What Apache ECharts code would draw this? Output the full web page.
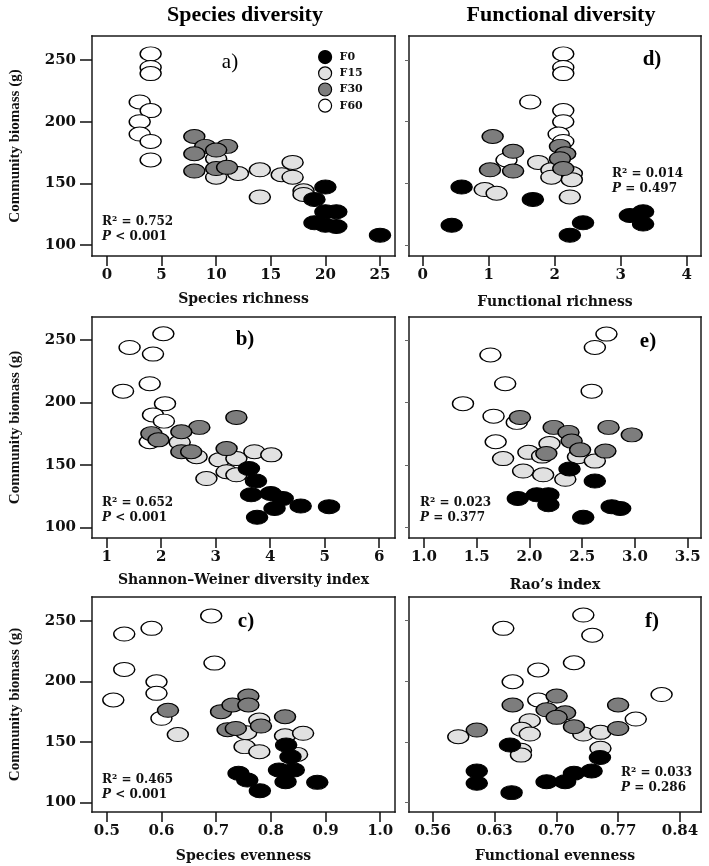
<!DOCTYPE html>
<html>
<head>
<meta charset="utf-8">
<script src="https://cdn.jsdelivr.net/npm/echarts@6/dist/echarts.min.js"></script>
<style>html,body{margin:0;padding:0;background:#fff;overflow:hidden;}#wrap{position:relative;width:709px;height:866px;}.layer{position:absolute;left:0;top:0;width:709px;height:866px;}</style>
</head>
<body>
<div id="wrap"></div>
<script>
// ---------- data ----------
const groups = ['F0', 'F15', 'F30', 'F60'];
const groupColors = ['#000000', '#e1e1e1', '#7d7d7d', '#ffffff'];

const biomassTicks = [100, 150, 200, 250];
const richTicks = [0, 5, 10, 15, 20, 25];
const frichTicks = [0, 1, 2, 3, 4];
const shannonTicks = [1, 2, 3, 4, 5, 6];
const raoTicks = [1.0, 1.5, 2.0, 2.5, 3.0, 3.5];
const evenTicks = [0.5, 0.6, 0.7, 0.8, 0.9, 1.0];
const fevenTicks = [0.56, 0.63, 0.70, 0.77, 0.84];

// a) species richness vs biomass
const richF0 = [[20,147],[19,137],[20,127],[21,127],[19,118],[20,116],[21,115],[25,108]];
const richF15 = [[10,155],[10,170],[12,158],[14,161],[14,139],[16,157],[17,167],[17,155],[18,144],[18,141]];
const richF30 = [[8,188],[9,180],[11,180],[8,174],[10,177],[10,162],[11,163],[8,160]];
const richF60 = [[4,255],[4,244],[4,239],[3,216],[4,209],[3,200],[3,190],[4,184],[4,169]];

// d) functional richness
const frichF0 = [[0.59,147],[1.67,137],[0.44,116],[2.23,108],[2.43,118],[3.14,124],[3.34,127],[3.34,117]];
const frichF15 = [[1.75,167],[1.95,161],[1.95,155],[2.26,158],[2.26,153],[0.94,145],[1.12,142],[2.23,139]];
const frichF30 = [[1.06,188],[1.37,176],[1.02,161],[1.37,160],[2.08,180],[2.16,174],[2.08,170],[2.13,162]];
const frichF60 = [[2.13,255],[2.13,244],[2.13,239],[1.63,216],[2.13,209],[2.13,200],[2.06,190],[2.13,184],[1.27,169]];

// b) Shannon-Weiner index
const shanF0 = [[3.61,147],[3.74,137],[3.65,126],[4.01,127],[4.23,123],[4.08,115],[4.56,117],[5.08,116.5],[3.76,108]];
const shanF15 = [[2.34,168],[2.65,156.5],[3.07,154],[3.38,155],[3.71,160.5],[4.02,158],[2.83,139],[3.20,144.5],[3.38,142]];
const shanF30 = [[3.38,188],[2.70,180],[2.37,176.5],[1.82,175],[1.95,170],[3.20,163],[2.37,160.5],[2.55,160.5]];
const shanF60 = [[2.04,255],[1.42,244],[1.85,238.7],[1.79,215],[1.30,209],[2.07,199],[1.85,190],[2.05,185],[1.79,168.5]];

// e) Rao's index
const raoF0 = [[2.38,146.7],[2.62,137],[1.89,123],[2.07,126],[2.18,126],[2.18,118],[2.51,108],[2.78,116.5],[2.86,115]];
const raoF15 = [[2.19,167],[1.99,160],[2.12,157],[1.75,155],[2.46,156.5],[2.62,153],[1.94,145],[2.13,142],[2.34,138.4]];
const raoF30 = [[1.91,188],[2.23,180],[2.75,180],[2.37,176],[2.97,174],[2.40,169],[2.48,162],[2.72,161],[2.16,159]];
const raoF60 = [[2.73,254.7],[2.62,244],[1.63,238],[1.77,215],[2.59,209],[1.37,199],[1.66,189],[1.88,184],[1.68,168.5]];

// c) species evenness
const evenF0 = [[0.828,147.3],[0.836,137.7],[0.741,124],[0.757,118.4],[0.78,109.6],[0.815,126.7],[0.842,126.7],[0.827,117],[0.885,116.5]];
const evenF15 = [[0.63,156],[0.779,168],[0.755,157.5],[0.752,146],[0.779,141.8],[0.826,155],[0.859,157],[0.848,139.6]];
const evenF30 = [[0.612,176],[0.709,174.9],[0.73,180.4],[0.759,187.8],[0.759,180.4],[0.721,160],[0.736,161],[0.782,163],[0.826,170.7]];
const evenF60 = [[0.691,254],[0.532,239],[0.582,243.7],[0.697,215],[0.532,209.8],[0.591,199.6],[0.591,190],[0.512,184.5],[0.6,169.4]];

// f) functional evenness
const fevenF0 = [[0.6476,147.3],[0.7494,137],[0.61,125.9],[0.61,115.7],[0.6494,108],[0.689,117],[0.71,117],[0.72,124],[0.74,125.9]];
const fevenF15 = [[0.589,154.2],[0.67,167.4],[0.6608,160.3],[0.67,156.4],[0.7306,156.4],[0.75,157.8],[0.75,144.6],[0.66,143],[0.66,139]];
const fevenF30 = [[0.7004,187.8],[0.6506,180.4],[0.77,180.4],[0.689,176.4],[0.71,174],[0.7004,170.2],[0.72,162.5],[0.77,161],[0.61,159.7]];
const fevenF60 = [[0.7306,254.7],[0.64,243.7],[0.7408,238],[0.72,215.3],[0.6796,209.3],[0.6506,199.6],[0.6796,184.5],[0.8192,189],[0.79,168.8]];

const statTexts = [
  ['R² = 0.752', '< 0.001'], ['R² = 0.014', '= 0.497'],
  ['R² = 0.652', '< 0.001'], ['R² = 0.023', '= 0.377'],
  ['R² = 0.465', '< 0.001'], ['R² = 0.033', '= 0.286']
];
const panelLetters = ['a)', 'd)', 'b)', 'e)', 'c)', 'f)'];
const xNames = ['Species richness', 'Functional richness', 'Shannon\u2013Weiner diversity index', 'Rao\u2019s index', 'Species evenness', 'Functional evenness'];
const colTitles = ['Species diversity', 'Functional diversity'];
const yName = 'Community biomass (g)';

// ---------- layout ----------
const panels = [
  { grid: [92, 36, 303, 220], x: [-1.37, 26.37], y: [91.1, 269.5], ticks: richTicks, dec: 0, data: [richF0, richF15, richF30, richF60], stat: [102, 222], letter: [230, 62, 'normal'], gap: 36 },
  { grid: [409, 36, 292, 220], x: [-0.208, 4.217], y: [91.1, 269.5], ticks: frichTicks, dec: 0, data: [frichF0, frichF15, frichF30, frichF60], stat: [612, 174], letter: [652, 60, 'bold'], gap: 39 },
  { grid: [92, 317, 303, 221], x: [0.73, 6.29], y: [91.4, 268.4], ticks: shannonTicks, dec: 0, data: [shanF0, shanF15, shanF30, shanF60], stat: [102, 503], letter: [245, 340, 'bold'], gap: 35 },
  { grid: [409, 317, 292, 221], x: [0.858, 3.626], y: [91.4, 268.4], ticks: raoTicks, dec: 1, data: [raoF0, raoF15, raoF30, raoF60], stat: [420, 503], letter: [648, 342, 'bold'], gap: 40 },
  { grid: [92, 597, 303, 215], x: [0.473, 1.027], y: [92, 269.6], ticks: evenTicks, dec: 1, data: [evenF0, evenF15, evenF30, evenF60], stat: [102, 780], letter: [246, 622, 'bold'], gap: 37 },
  { grid: [409, 597, 292, 215], x: [0.5332, 0.8638], y: [92, 269.6], ticks: fevenTicks, dec: 2, data: [fevenF0, fevenF15, fevenF30, fevenF60], stat: [621, 773], letter: [652, 622, 'bold'], gap: 37 }
];

const labelFont = 'DejaVu Serif';
const timesFont = 'Liberation Serif, Times New Roman, serif';
const drawOrder = [3, 1, 2, 0];

function frameLine() {
  return { show: true, onZero: false, lineStyle: { color: '#1a1a1a', width: 1.5, cap: 'square' } };
}

function newLayer() {
  const d = document.createElement('div');
  d.className = 'layer';
  document.getElementById('wrap').appendChild(d);
  return echarts.init(d, null, { renderer: 'canvas', width: 709, height: 866 });
}

// one layer per panel (same page coordinates, stacked)
panels.forEach((p, i) => {
  const leftCol = i % 2 === 0;
  const series = drawOrder.map(g => ({
    type: 'scatter', name: groups[g], xAxisIndex: 0, yAxisIndex: 0,
    data: p.data[g], symbol: 'circle', symbolSize: [21, 14],
    itemStyle: { color: groupColors[g], borderColor: '#000', borderWidth: 1.2, opacity: 1 },
    emphasis: { disabled: true }, z: 3
  }));
  const option = {
    animation: false,
    grid: [{ left: p.grid[0], top: p.grid[1], width: p.grid[2], height: p.grid[3] }],
    xAxis: [
      { type: 'value', gridIndex: 0, min: p.x[0], max: p.x[1], position: 'bottom',
        axisLine: frameLine(), splitLine: { show: false },
        axisTick: { show: true, length: 10, customValues: p.ticks, lineStyle: { color: '#111', width: 1.5 } },
        axisLabel: { customValues: p.ticks, margin: 12, formatter: v => Number(v).toFixed(p.dec), fontFamily: labelFont, fontWeight: 'bold', fontSize: 15, color: '#111' },
        name: xNames[i], nameLocation: 'middle', nameGap: p.gap,
        nameTextStyle: { fontFamily: labelFont, fontWeight: 'bold', fontSize: 14, color: '#111' } },
      { type: 'value', gridIndex: 0, min: p.x[0], max: p.x[1], position: 'top',
        axisLine: frameLine(), splitLine: { show: false }, axisTick: { show: false }, axisLabel: { show: false } }
    ],
    yAxis: [
      { type: 'value', gridIndex: 0, min: p.y[0], max: p.y[1], position: 'left',
        axisLine: frameLine(), splitLine: { show: false },
        axisTick: { show: true, length: leftCol ? 12 : 4, customValues: biomassTicks, lineStyle: { color: leftCol ? '#111' : '#666', width: leftCol ? 1.5 : 1 } },
        axisLabel: { show: leftCol, customValues: biomassTicks, margin: 16, fontFamily: labelFont, fontWeight: 'bold', fontSize: 15, color: '#111' } },
      { type: 'value', gridIndex: 0, min: p.y[0], max: p.y[1], position: 'right',
        axisLine: frameLine(), splitLine: { show: false }, axisTick: { show: false }, axisLabel: { show: false } }
    ],
    series: series
  };
  if (i === 0) {
    option.legend = {
      data: groups, orient: 'vertical', left: 313, top: 45, itemWidth: 19, itemHeight: 13, itemGap: 2,
      icon: 'circle', symbolKeepAspect: false, selectedMode: false,
      itemStyle: { borderColor: '#000', borderWidth: 1.2 },
      textStyle: { fontFamily: labelFont, fontWeight: 'bold', fontSize: 11, color: '#111' }
    };
  }
  newLayer().setOption(option);
});

// text layer: titles, y-axis titles, panel letters and statistics
const graphics = [];
panels.forEach((p, i) => {
  graphics.push({ type: 'text', x: p.letter[0], y: p.letter[1],
    style: { text: panelLetters[i], font: p.letter[2] + ' 21px ' + timesFont, fill: '#000', align: 'center', verticalAlign: 'middle' } });
  graphics.push({ type: 'text', x: p.stat[0], y: p.stat[1],
    style: { text: statTexts[i][0], font: 'bold 12px ' + labelFont, fill: '#111', align: 'left', verticalAlign: 'middle' } });
  graphics.push({ type: 'text', x: p.stat[0], y: p.stat[1] + 15,
    style: { text: '{i|P} ' + statTexts[i][1], font: 'bold 12px ' + labelFont, fill: '#111', align: 'left', verticalAlign: 'middle',
      rich: { i: { fontStyle: 'italic', fontWeight: 'bold', fontSize: 12, fontFamily: labelFont, fill: '#111' } } } });
  if (i % 2 === 0) {
    graphics.push({ type: 'text', x: 15, y: p.grid[1] + p.grid[3] / 2, rotation: Math.PI / 2,
      style: { text: yName, font: 'bold 15px ' + timesFont, fill: '#111', align: 'center', verticalAlign: 'middle' } });
  }
});
graphics.push({ type: 'text', x: 245, y: 15, style: { text: colTitles[0], font: 'bold 22px ' + timesFont, fill: '#000', align: 'center', verticalAlign: 'middle' } });
graphics.push({ type: 'text', x: 561, y: 15, style: { text: colTitles[1], font: 'bold 22px ' + timesFont, fill: '#000', align: 'center', verticalAlign: 'middle' } });
newLayer().setOption({ animation: false, graphic: graphics });
</script>
</body>
</html>
